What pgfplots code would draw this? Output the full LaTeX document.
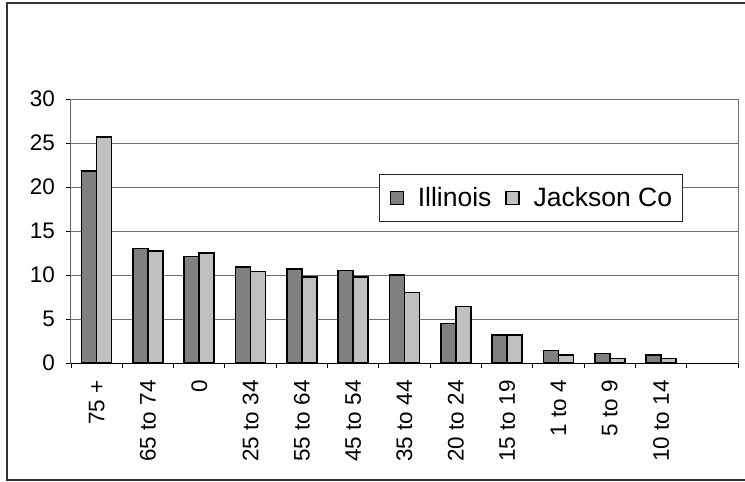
\documentclass[border=0pt]{standalone}
\usepackage{fontspec}
\setmainfont{Liberation Sans}
\usepackage{pgfplots}
\pgfplotsset{compat=1.18}
\definecolor{ill}{HTML}{808080}
\definecolor{jack}{HTML}{C0C0C0}
\definecolor{gridc}{HTML}{707070}
\begin{document}
\begin{tikzpicture}
\path[use as bounding box] (-71bp,-119bp) rectangle (674bp,363bp);
\draw[line width=1.3bp, black!80] (-64bp,-117bp) rectangle (690bp,360bp);
\begin{axis}[
  at={(0bp,0bp)}, anchor=south west,
  scale only axis, width=667bp, height=264bp,
  xmin=-0.5, xmax=12.5, ymin=0, ymax=30,
  ybar=0pt, bar width=15bp,
  xtick={0,...,11},
  xticklabels={75 +, 65 to 74, 0, 25 to 34, 55 to 64, 45 to 54, 35 to 44, 20 to 24, 15 to 19, 1 to 4, 5 to 9, 10 to 14},
  minor xtick={-0.5,0.5,...,12.5},
  ytick={0,5,...,30},
  tick pos=left, tick align=outside,
  major tick length=5bp, minor tick length=5bp,
  every major x tick/.append style={draw=none},
  every tick/.append style={black, line width=0.9bp},
  ymajorgrids, major grid style={gridc, line width=0.9bp},
  axis line style={gridc, line width=1bp},
  /pgf/number format/assume math mode=true,
  tick label style={font=\fontsize{22.5bp}{26bp}\selectfont, inner sep=0pt},
  xticklabel style={rotate=90, anchor=east},
  yticklabel style={anchor=east},
  xticklabel shift=12bp, yticklabel shift=11bp,
  legend style={at={(0.462,0.716)}, anchor=north west, draw=black!85, line width=1bp,
    font=\fontsize{26.5bp}{30bp}\selectfont, inner xsep=10bp, inner ysep=13bp,
    nodes={inner sep=0pt},
    /tikz/every odd column/.append style={column sep=14bp},
    /tikz/every even column/.append style={column sep=14bp}},
  legend columns=2,
  legend image code/.code={\draw[#1, line width=1.2bp] (0bp,-6.5bp) rectangle (13bp,6.5bp);},
]
\addplot[fill=ill, draw=black, line width=1.6bp] coordinates {
 (0,21.8) (1,13.0) (2,12.1) (3,10.9) (4,10.7) (5,10.5) (6,10.0) (7,4.5) (8,3.2) (9,1.4) (10,1.1) (11,0.9)};
\addplot[fill=jack, draw=black, line width=1.6bp] coordinates {
 (0,25.7) (1,12.7) (2,12.5) (3,10.4) (4,9.8) (5,9.8) (6,8.0) (7,6.4) (8,3.2) (9,0.9) (10,0.5) (11,0.5)};
\legend{Illinois, Jackson Co}
\draw[black, line width=1bp] (rel axis cs:0,1) -- (rel axis cs:0,0) -- (rel axis cs:1,0);
\end{axis}
\end{tikzpicture}
\end{document}
